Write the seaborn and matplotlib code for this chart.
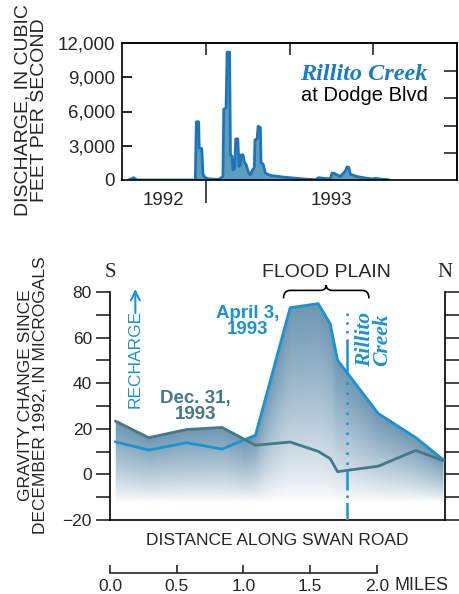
import numpy as np
import pandas as pd
import matplotlib
matplotlib.use("Agg")
import matplotlib.pyplot as plt
from matplotlib.path import Path
from matplotlib.patches import PathPatch
import seaborn as sns

# ---- data -------------------------------------------------------------
# Rillito Creek discharge, months since Sept 1, 1992
hydro_month = [0.32, 0.56, 0.72, 3.50, 3.55, 3.66, 3.69, 3.81, 3.87, 3.98,
               4.14, 4.62, 4.82, 4.86, 4.97, 5.02, 5.14, 5.18, 5.25, 5.30,
               5.38, 5.43, 5.53, 5.59, 5.65, 5.69, 5.78, 5.84, 5.94, 6.05,
               6.13, 6.21, 6.32, 6.35, 6.45, 6.50, 6.61, 6.64, 6.74, 6.85,
               7.09, 7.72, 8.52, 8.76, 9.24, 9.39, 9.63, 9.95, 10.03, 10.11,
               10.43, 10.67, 10.75, 10.83, 10.91, 11.23, 11.70, 11.94, 12.10, 12.34,
               12.74]
hydro_cfs = [0, 200, 0, 0, 5100, 5100, 2800, 2750, 500, 200,
             100, 50, 300, 6200, 6300, 11200, 11200, 2200, 2100, 900,
             1000, 3600, 3600, 1200, 1300, 2200, 2200, 1600, 1300, 600,
             450, 800, 1100, 3500, 3600, 4700, 4600, 1500, 1400, 600,
             400, 250, 120, 80, 30, 200, 150, 100, 600, 600,
             300, 800, 1150, 1100, 500, 300, 150, 100, 150, 80,
             30]
year_labels = ["1992", "1993"]
year_centers = [2, 10]
year_break = 4
season_ticks = [4, 8, 12]
cfs_ticks = [0, 3000, 6000, 9000, 12000]
right_ticks = [2340, 4750, 7160, 9570]

# gravity change along Swan Road
miles = [0.04, 0.29, 0.575, 0.84, 1.09, 1.35, 1.56, 1.65, 1.705, 2.01, 2.29, 2.50]
grav_apr = [14.3, 10.7, 13.9, 11.1, 17.2, 73.1, 74.9, 66.1, 50.1, 26.7, 16.2, 6.3]
grav_dec = [23.4, 16.1, 19.7, 20.6, 12.8, 14.2, 10.1, 6.9, 1.2, 3.6, 10.5, 6.0]
creek_mile = 1.775
flood_plain = [1.30, 1.94]
mile_ticks = [0.0, 0.5, 1.0, 1.5, 2.0]
mile_labels = ["0.0", "0.5", "1.0", "1.5", "2.0"]
grav_ticks = [-20, 0, 20, 40, 60, 80]

hydro = pd.DataFrame({"month": hydro_month, "cfs": hydro_cfs})
grav = pd.DataFrame({"miles": miles, "apr": grav_apr, "dec": grav_dec})

# ---- style ------------------------------------------------------------
sns.set_theme(style="white")
plt.rcParams["font.family"] = ["Liberation Sans", "DejaVu Sans"]
plt.rcParams["axes.linewidth"] = 1.2

HYDRO_FILL = "#5b9cc1"
HYDRO_LINE = "#1f74b8"
APR_BLUE = "#1a93d3"
DEC_TEAL = "#44788b"
STEEL = np.array([0.43, 0.59, 0.70])
SERIF = ["Liberation Serif", "DejaVu Serif"]
PX = 72 / 100  # points per pixel at 100 dpi

fig = plt.figure(figsize=(4.6, 5.94), dpi=100)
W, H = 460, 594

# ---- top panel: discharge --------------------------------------------
ax1 = fig.add_axes([122 / W, 1 - 180 / H, 335 / W, 137 / H])
ax1.fill_between(hydro["month"], hydro["cfs"], color=HYDRO_FILL, lw=0)
sns.lineplot(data=hydro, x="month", y="cfs", ax=ax1, color=HYDRO_LINE,
             lw=2, sort=False)
ax1.set_xlim(0, 16)
ax1.set_ylim(0, 12000)
ax1.set_xlabel("")
ax1.set_ylabel("")
for s in ax1.spines.values():
    s.set_visible(True)
    s.set_color("black")
ax1.set_yticks(cfs_ticks)
ax1.set_yticklabels([f"{v:,}" for v in cfs_ticks], fontsize=13.5)
ax1.tick_params(axis="y", length=0, pad=7 * PX)
# inward ticks on the left edge
for v in cfs_ticks[1:-1]:
    ax1.plot([0, 0.03], [v, v], transform=ax1.get_yaxis_transform(),
             color="black", lw=1.2, solid_capstyle="butt", clip_on=False)
ax1.set_xticks([year_break])
ax1.set_xticklabels([""])
ax1.tick_params(axis="x", bottom=True, direction="out", length=23 * PX, width=1.2)
ax1.set_xticks(year_centers, minor=True)
ax1.set_xticklabels(year_labels, minor=True, fontsize=13.5)
ax1.tick_params(axis="x", which="minor", length=0, pad=12 * PX)

top = ax1.secondary_xaxis("top")
top.set_xticks(season_ticks)
top.tick_params(direction="in", length=12 * PX, width=1.2, labeltop=False)
rgt = ax1.secondary_yaxis("right")
rgt.set_yticks(right_ticks)
rgt.tick_params(direction="in", length=13 * PX, width=1.2, labelright=False)

ax1.text(14.6, 9250, "Rillito Creek", ha="right", va="center", color="#1a7dc2",
         fontsize=17.5, fontweight="bold", fontstyle="italic", family=SERIF)
ax1.text(14.6, 7400, "at Dodge Blvd", ha="right", va="center", color="black",
         fontsize=14.5)
fig.text(31 / W, 1 - 110 / H, "DISCHARGE, IN CUBIC\nFEET PER SECOND",
         rotation=90, ha="center", va="center", fontsize=14, linespacing=0.95)

# ---- bottom panel: gravity change ------------------------------------
ax2 = fig.add_axes([110 / W, 1 - 520 / H, 335 / W, 228 / H])
ax2.set_xlim(0, 2.51)
ax2.set_ylim(-20, 80)

# gradient shading under the upper envelope of both profiles
nx, ny = 700, 500
gx = np.linspace(0, 2.51, nx)
gy = np.linspace(-20, 80, ny)
env = np.maximum(np.interp(gx, grav["miles"], grav["apr"]),
                 np.interp(gx, grav["miles"], grav["dec"]))
ybot = -12
t = (gy[:, None] - ybot) / (env[None, :] - ybot)
alpha = np.clip(t, 0, 1) ** 0.8
alpha[gy[:, None] > env[None, :]] = 0
outside = (gx < grav["miles"].min()) | (gx > grav["miles"].max())
alpha[:, outside] = 0
img = np.zeros((ny, nx, 4))
img[..., :3] = STEEL
img[..., 3] = alpha
ax2.imshow(img, extent=[0, 2.51, -20, 80], origin="lower", aspect="auto",
           interpolation="bilinear", zorder=1)

sns.lineplot(data=grav, x="miles", y="apr", ax=ax2, color=APR_BLUE, lw=2,
             sort=False, zorder=3)
sns.lineplot(data=grav, x="miles", y="dec", ax=ax2, color=DEC_TEAL, lw=2,
             sort=False, zorder=4)
ax2.set_xlim(0, 2.51)
ax2.set_ylim(-20, 80)
ax2.set_xlabel("")
ax2.set_ylabel("")

# creek channel marker
ckw = dict(color=APR_BLUE, lw=1.8, zorder=5)
ax2.plot([creek_mile, creek_mile], [71, 59], ls=(0, (1, 2.5)), **ckw)
ax2.plot([creek_mile, creek_mile], [59, 45], ls="-", **ckw)
ax2.plot([creek_mile, creek_mile], [45, 2], ls=(0, (1, 3)), **ckw)
ax2.plot([creek_mile, creek_mile], [2, -20], ls=(0, (8, 2, 1, 2)), **ckw)
ax2.text(creek_mile + 0.2, 59, "Rillito\nCreek", rotation=90, ha="center",
         va="center", color=APR_BLUE, fontsize=15.5, fontweight="bold",
         fontstyle="italic", family=SERIF, linespacing=0.85, zorder=6)

ax2.spines["top"].set_visible(False)
for s in ["left", "right", "bottom"]:
    ax2.spines[s].set_visible(True)
    ax2.spines[s].set_color("black")
ax2.set_yticks(grav_ticks)
ax2.set_yticklabels([str(v) if v >= 0 else "\u2212" + str(-v) for v in grav_ticks],
                    fontsize=12.5)
ax2.set_yticks(np.arange(-10, 80, 20), minor=True)
ax2.tick_params(axis="y", which="both", left=True, right=True, direction="out",
                length=14 * PX, width=1.2, labelright=False, pad=4 * PX)
ax2.set_xticks([])

# labels and annotations
ax2.text(0, 88.6, "S", ha="center", va="center", fontsize=15, family=SERIF)
ax2.text(2.51, 88.6, "N", ha="center", va="center", fontsize=15, family=SERIF)
ax2.text(1.625, 88.6, "FLOOD PLAIN", ha="center", va="center", fontsize=14)

x0, x1 = flood_plain
xc = (x0 + x1) / 2
r = 0.05
ylo, ymid, ytop = 77.2, 80.7, 83.0
verts = [(x0, ylo), (x0, ymid), (x0 + r, ymid), (xc - r, ymid), (xc, ymid),
         (xc, ytop), (xc, ymid), (xc + r, ymid), (x1 - r, ymid), (x1, ymid),
         (x1, ylo)]
codes = [Path.MOVETO, Path.CURVE3, Path.CURVE3, Path.LINETO, Path.CURVE3,
         Path.CURVE3, Path.CURVE3, Path.CURVE3, Path.LINETO, Path.CURVE3,
         Path.CURVE3]
ax2.add_patch(PathPatch(Path(verts, codes), fill=False, lw=1.2, color="black",
                        clip_on=False))

ax2.text(1.03, 67, "April 3,\n1993", ha="center", va="center", color=APR_BLUE,
         fontsize=13.5, fontweight="bold", linespacing=0.95)
ax2.text(0.64, 29.8, "Dec. 31,\n1993", ha="center", va="center", color=DEC_TEAL,
         fontsize=13.5, fontweight="bold", linespacing=0.95)
ax2.text(0.19, 29, "RECHARGE", rotation=90, ha="center", va="bottom",
         color=APR_BLUE, fontsize=12.5)
ax2.annotate("", xy=(0.19, 82.5), xytext=(0.19, 69.5),
             arrowprops=dict(arrowstyle="->", color=APR_BLUE, lw=1.5,
                             mutation_scale=16), annotation_clip=False)

ax2.text(0.5, -0.088, "DISTANCE ALONG SWAN ROAD", transform=ax2.transAxes,
         ha="center", va="center", fontsize=12.5)

scale = ax2.secondary_xaxis(-0.2325)
scale.set_xticks(mile_ticks)
scale.set_xticklabels(mile_labels, fontsize=12.5)
scale.tick_params(direction="in", length=8 * PX, width=1.2, pad=6 * PX)
scale.spines["bottom"].set_bounds(0, 2)
scale.spines["bottom"].set_linewidth(1.2)
ax2.text(2.13, -0.288, "MILES", transform=ax2.get_xaxis_transform(),
         ha="left", va="center", fontsize=13)

fig.text(33 / W, 1 - 395 / H, "GRAVITY CHANGE SINCE\nDECEMBER 1992, IN MICROGALS",
         rotation=90, ha="center", va="center", fontsize=12.5, linespacing=1.0)

fig.savefig("out.png", dpi=100)
